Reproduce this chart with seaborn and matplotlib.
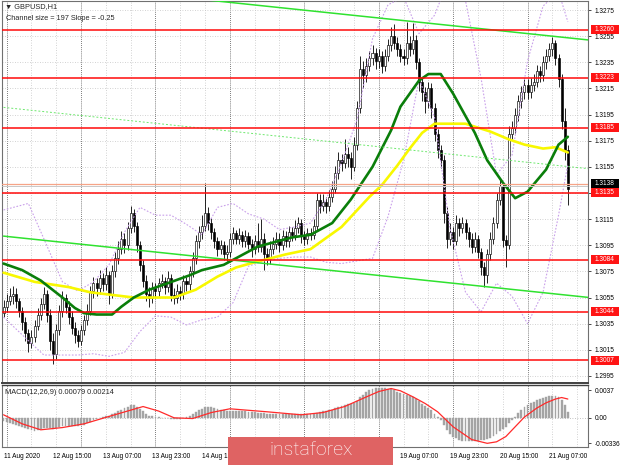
import numpy as np
import matplotlib
matplotlib.use("Agg")
import matplotlib.pyplot as plt
from matplotlib.patches import Rectangle
import seaborn as sns

sns.set_style("white")
plt.rcParams['font.family'] = ['Liberation Sans', 'DejaVu Sans']

# GBPUSD H1, 11 Aug 23:00 .. 21 Aug 13:00 (bar index 0..182)
first_open = 1.3043
close = [
    1.3048, 1.3052, 1.3056, 1.3058, 1.3052, 1.3045, 1.3036, 1.3028, 1.3020, 1.3025,
    1.3033, 1.3042, 1.3050, 1.3058, 1.3042, 1.3022, 1.3012, 1.3030, 1.3045, 1.3055,
    1.3048, 1.3040, 1.3032, 1.3026, 1.3022, 1.3030, 1.3038, 1.3045, 1.3060, 1.3066,
    1.3062, 1.3070, 1.3065, 1.3072, 1.3058, 1.3075, 1.3085, 1.3092, 1.3100, 1.3095,
    1.3108, 1.3120, 1.3110, 1.3095, 1.3080, 1.3068, 1.3058, 1.3055, 1.3062, 1.3060,
    1.3066, 1.3068, 1.3063, 1.3070, 1.3057, 1.3055, 1.3060, 1.3058, 1.3068, 1.3065,
    1.3075, 1.3085, 1.3098, 1.3105, 1.3110, 1.3120, 1.3112, 1.3105, 1.3098, 1.3092,
    1.3095, 1.3088, 1.3090, 1.3100, 1.3104, 1.3100, 1.3103, 1.3098, 1.3102, 1.3096,
    1.3092, 1.3098, 1.3094, 1.3100, 1.3088, 1.3085, 1.3092, 1.3096, 1.3100, 1.3095,
    1.3102, 1.3098, 1.3105, 1.3103, 1.3108, 1.3112, 1.3102, 1.3100, 1.3104, 1.3103,
    1.3110, 1.3130, 1.3125, 1.3128, 1.3125, 1.3132, 1.3138, 1.3150, 1.3160, 1.3158,
    1.3165, 1.3162, 1.3155, 1.3172, 1.3200, 1.3230, 1.3225, 1.3232, 1.3238, 1.3242,
    1.3236, 1.3240, 1.3232, 1.3240, 1.3248, 1.3255, 1.3250, 1.3245, 1.3240, 1.3238,
    1.3250, 1.3245, 1.3252, 1.3235, 1.3220, 1.3212, 1.3205, 1.3215, 1.3200, 1.3180,
    1.3168, 1.3160, 1.3120, 1.3100, 1.3105, 1.3098, 1.3112, 1.3108, 1.3112, 1.3105,
    1.3100, 1.3094, 1.3100, 1.3090, 1.3078, 1.3072, 1.3088, 1.3100, 1.3112, 1.3130,
    1.3140, 1.3099, 1.3095, 1.3180, 1.3185, 1.3195, 1.3205, 1.3212, 1.3218, 1.3212,
    1.3218, 1.3220, 1.3228, 1.3225, 1.3235, 1.3240, 1.3245, 1.3250, 1.3238, 1.3222,
    1.3190, 1.3168, 1.3138]
high = [
    1.3053, 1.3058, 1.3062, 1.3064, 1.3062, 1.3055, 1.3048, 1.3040, 1.3031, 1.3030,
    1.3038, 1.3047, 1.3055, 1.3063, 1.3061, 1.3046, 1.3028, 1.3035, 1.3049, 1.3060,
    1.3058, 1.3052, 1.3045, 1.3036, 1.3030, 1.3034, 1.3042, 1.3050, 1.3064, 1.3071,
    1.3070, 1.3076, 1.3074, 1.3078, 1.3075, 1.3080, 1.3090, 1.3098, 1.3106, 1.3104,
    1.3113, 1.3125, 1.3123, 1.3113, 1.3098, 1.3084, 1.3072, 1.3063, 1.3067, 1.3066,
    1.3070, 1.3073, 1.3071, 1.3075, 1.3073, 1.3062, 1.3065, 1.3064, 1.3072, 1.3071,
    1.3079, 1.3090, 1.3103, 1.3110, 1.3118, 1.3143, 1.3124, 1.3116, 1.3108, 1.3101,
    1.3099, 1.3098, 1.3095, 1.3104, 1.3109, 1.3107, 1.3108, 1.3106, 1.3107, 1.3105,
    1.3100, 1.3103, 1.3112, 1.3115, 1.3104, 1.3093, 1.3098, 1.3101, 1.3105, 1.3104,
    1.3107, 1.3106, 1.3110, 1.3109, 1.3114, 1.3117, 1.3115, 1.3106, 1.3108, 1.3108,
    1.3115, 1.3135, 1.3134, 1.3134, 1.3132, 1.3137, 1.3144, 1.3156, 1.3166, 1.3165,
    1.3176, 1.3170, 1.3166, 1.3178, 1.3205, 1.3240, 1.3236, 1.3238, 1.3244, 1.3248,
    1.3246, 1.3245, 1.3244, 1.3245, 1.3253, 1.3262, 1.3264, 1.3254, 1.3249, 1.3245,
    1.3266, 1.3255, 1.3265, 1.3256, 1.3238, 1.3224, 1.3216, 1.3220, 1.3219, 1.3204,
    1.3184, 1.3172, 1.3164, 1.3124, 1.3112, 1.3109, 1.3118, 1.3116, 1.3117, 1.3115,
    1.3109, 1.3104, 1.3105, 1.3103, 1.3093, 1.3082, 1.3092, 1.3105, 1.3117, 1.3135,
    1.3146, 1.3143, 1.3103, 1.3186, 1.3190, 1.3200, 1.3210, 1.3217, 1.3223, 1.3222,
    1.3223, 1.3226, 1.3233, 1.3232, 1.3240, 1.3245, 1.3250, 1.3254, 1.3252, 1.3241,
    1.3226, 1.3200, 1.3172]
low = [
    1.3040, 1.3044, 1.3049, 1.3050, 1.3047, 1.3040, 1.3030, 1.3022, 1.3013, 1.3016,
    1.3021, 1.3030, 1.3038, 1.3046, 1.3036, 1.3015, 1.3004, 1.3008, 1.3026, 1.3040,
    1.3043, 1.3035, 1.3027, 1.3020, 1.3017, 1.3019, 1.3026, 1.3034, 1.3042, 1.3055,
    1.3056, 1.3058, 1.3060, 1.3061, 1.3050, 1.3055, 1.3071, 1.3081, 1.3088, 1.3089,
    1.3091, 1.3104, 1.3105, 1.3090, 1.3075, 1.3063, 1.3052, 1.3048, 1.3051, 1.3055,
    1.3056, 1.3062, 1.3058, 1.3059, 1.3052, 1.3050, 1.3051, 1.3053, 1.3054, 1.3060,
    1.3061, 1.3071, 1.3081, 1.3093, 1.3100, 1.3106, 1.3107, 1.3100, 1.3093, 1.3087,
    1.3088, 1.3084, 1.3083, 1.3086, 1.3096, 1.3096, 1.3096, 1.3094, 1.3094, 1.3092,
    1.3086, 1.3088, 1.3090, 1.3090, 1.3076, 1.3080, 1.3081, 1.3088, 1.3092, 1.3090,
    1.3091, 1.3094, 1.3094, 1.3098, 1.3099, 1.3104, 1.3097, 1.3095, 1.3096, 1.3099,
    1.3100, 1.3107, 1.3120, 1.3121, 1.3120, 1.3121, 1.3128, 1.3135, 1.3146, 1.3152,
    1.3154, 1.3155, 1.3146, 1.3152, 1.3168, 1.3196, 1.3215, 1.3220, 1.3228, 1.3233,
    1.3230, 1.3231, 1.3227, 1.3228, 1.3236, 1.3244, 1.3245, 1.3240, 1.3235, 1.3233,
    1.3234, 1.3240, 1.3241, 1.3230, 1.3213, 1.3205, 1.3196, 1.3200, 1.3192, 1.3175,
    1.3162, 1.3154, 1.3112, 1.3093, 1.3095, 1.3092, 1.3095, 1.3102, 1.3104, 1.3100,
    1.3094, 1.3089, 1.3090, 1.3085, 1.3072, 1.3063, 1.3066, 1.3084, 1.3096, 1.3108,
    1.3126, 1.3094, 1.3078, 1.3092, 1.3176, 1.3181, 1.3190, 1.3200, 1.3207, 1.3207,
    1.3208, 1.3213, 1.3216, 1.3220, 1.3221, 1.3230, 1.3236, 1.3240, 1.3233, 1.3216,
    1.3184, 1.3160, 1.3126]

macd_hist = [
    -0.00040, -0.00060, -0.00075, -0.00085, -0.00095, -0.00110, -0.00125, -0.00140, -0.00155, -0.00165,
    -0.00170, -0.00165, -0.00150, -0.00130, -0.00130, -0.00140, -0.00150, -0.00140, -0.00125, -0.00110,
    -0.00105, -0.00105, -0.00110, -0.00110, -0.00110, -0.00100, -0.00090, -0.00075, -0.00050, -0.00030,
    -0.00015, 0.00000, 0.00010, 0.00025, 0.00025, 0.00045, 0.00070, 0.00090, 0.00110, 0.00125,
    0.00145, 0.00165, 0.00165, 0.00150, 0.00120, 0.00085, 0.00055, 0.00030, 0.00020, 0.00010,
    0.00005, 0.00000, -0.00005, 0.00000, -0.00010, -0.00020, -0.00020, -0.00015, -0.00005, 0.00005,
    0.00025, 0.00050, 0.00080, 0.00100, 0.00120, 0.00140, 0.00145, 0.00140, 0.00130, 0.00120,
    0.00110, 0.00100, 0.00095, 0.00095, 0.00095, 0.00090, 0.00090, 0.00085, 0.00085, 0.00080,
    0.00075, 0.00075, 0.00070, 0.00070, 0.00060, 0.00055, 0.00050, 0.00050, 0.00050, 0.00045,
    0.00045, 0.00045, 0.00045, 0.00045, 0.00050, 0.00055, 0.00050, 0.00045, 0.00045, 0.00045,
    0.00050, 0.00065, 0.00075, 0.00085, 0.00090, 0.00100, 0.00110, 0.00125, 0.00145, 0.00160,
    0.00175, 0.00185, 0.00185, 0.00195, 0.00230, 0.00280, 0.00310, 0.00340, 0.00365, 0.00385,
    0.00395, 0.00400, 0.00398, 0.00395, 0.00390, 0.00380, 0.00365, 0.00350, 0.00335, 0.00320,
    0.00305, 0.00290, 0.00275, 0.00255, 0.00225, 0.00190, 0.00160, 0.00130, 0.00100, 0.00055,
    0.00015, -0.00030, -0.00100, -0.00160, -0.00210, -0.00250, -0.00275, -0.00295, -0.00305, -0.00310,
    -0.00315, -0.00315, -0.00310, -0.00305, -0.00300, -0.00295, -0.00285, -0.00265, -0.00240, -0.00210,
    -0.00175, -0.00150, -0.00125, -0.00075, -0.00030, 0.00010, 0.00060, 0.00100, 0.00140, 0.00170,
    0.00195, 0.00215, 0.00235, 0.00250, 0.00265, 0.00275, 0.00285, 0.00290, 0.00290, 0.00275,
    0.00240, 0.00170, 0.00079]

signal_k = [0, 6, 12, 19, 26, 35, 45, 50, 55, 61, 67, 73, 85, 96, 103, 110, 116, 121, 125,
            128, 132, 136, 140, 145, 151, 156, 159, 162, 168, 172, 175, 178, 180, 182]
signal_v = [0.0004, -0.0008, -0.0016, -0.0013, -0.0008, 0.0003, 0.0015, 0.0009, 0.0000, -0.0001,
            0.0007, 0.0012, 0.0008, 0.0004, 0.0007, 0.0015, 0.0026, 0.0035, 0.0039,
            0.0036, 0.0028, 0.0019, 0.0008, -0.0012, -0.0029, -0.0034, -0.0032, -0.0025, 0.0001,
            0.0013, 0.0020, 0.0025, 0.0027, 0.0025]

ma_green_k = [0, 6, 12, 19, 23, 26, 30, 35, 38, 42, 47, 53, 60, 64, 71, 82, 93, 99, 106, 112,
              119, 125, 128, 134, 137, 141, 145, 152, 156, 161, 165, 169, 175, 179, 182]
ma_green_v = [1.3081, 1.3076, 1.3068, 1.3055, 1.3047, 1.3043, 1.3042, 1.3042, 1.3048, 1.3055,
              1.3061, 1.3066, 1.3072, 1.3076, 1.3080, 1.3094, 1.3101, 1.3103, 1.3112, 1.3130,
              1.3155, 1.3183, 1.3201, 1.3221, 1.3226, 1.3226, 1.3211, 1.3181, 1.3160, 1.3143,
              1.3131, 1.3136, 1.3153, 1.3172, 1.3178]
ma_yellow_k = [0, 10, 21, 28, 35, 42, 48, 55, 62, 69, 75, 81, 91, 99, 109, 118, 122, 127, 131,
               135, 139, 149, 157, 163, 168, 174, 178, 182]
ma_yellow_v = [1.3074, 1.3067, 1.3063, 1.3059, 1.3057, 1.3055, 1.3055, 1.3055, 1.3061, 1.3071,
               1.3078, 1.3082, 1.3088, 1.3092, 1.3109, 1.3132, 1.3141, 1.3156, 1.3169,
               1.3181, 1.3188, 1.3188, 1.3182, 1.3176, 1.3172, 1.3169, 1.3170, 1.3166]

bb_k = [0, 8, 13, 19, 24, 29, 34, 39, 44, 49, 54, 59, 64, 69, 74, 79, 84, 89, 94, 99, 104,
        109, 114, 119, 124, 129, 134, 139, 144, 149, 154, 159, 164, 169, 174, 179, 182]
bb_upper = [1.3122, 1.3127, 1.3100, 1.3067, 1.3060, 1.3067, 1.3080, 1.3105, 1.3124, 1.3118,
            1.3118, 1.3111, 1.3103, 1.3124, 1.3127, 1.3119, 1.3115, 1.3107, 1.3109, 1.3112,
            1.3130, 1.3158, 1.3191, 1.3253, 1.3279, 1.3285, 1.3257, 1.3271, 1.3301, 1.3282,
            1.3223, 1.3149, 1.3164, 1.3236, 1.3278, 1.3289, 1.3266]
bb_lower = [1.3040, 1.3022, 1.3011, 1.3011, 1.3011, 1.3012, 1.3010, 1.3013, 1.3029, 1.3041,
            1.3040, 1.3034, 1.3038, 1.3040, 1.3051, 1.3079, 1.3083, 1.3085, 1.3086, 1.3086,
            1.3082, 1.3081, 1.3083, 1.3085, 1.3117, 1.3160, 1.3222, 1.3193, 1.3108, 1.3059,
            1.3044, 1.3066, 1.3056, 1.3035, 1.3059, 1.3118, 1.3157]

chan_k = [0, 189]
chan_upper = [1.3299, 1.3252]
chan_mid = [1.32005, 1.31535]
chan_lower = [1.3102, 1.3055]

levels = [1.3260, 1.3223, 1.3185, 1.3135, 1.3084, 1.3044, 1.3007]
ask_line = 1.3142
bid_line = 1.3140
bid_label = "1.3138"

price_ticks = [1.3275, 1.3255, 1.3235, 1.3215, 1.3195, 1.3175, 1.3155, 1.3135,
               1.3115, 1.3095, 1.3075, 1.3055, 1.3035, 1.3015, 1.2995]
macd_ticks = [0.0037, 0.0, -0.00336]
macd_tick_labels = ["0.0037", "0.00", "-0.00336"]
# labels at 17 Aug 07:00 .. 18 Aug 15:00 sit under the watermark and are not visible
time_k = [0, 16, 32, 48, 64, 80, 96, 112, 128, 144, 160, 176]
time_labels = ["11 Aug 2020", "12 Aug 15:00", "13 Aug 07:00", "13 Aug 23:00", "14 Aug 15:00",
               "", "", "", "19 Aug 07:00", "19 Aug 23:00",
               "20 Aug 15:00", "21 Aug 07:00"]

# ---- figure / axes
W, H = 620, 465
fig = plt.figure(figsize=(6.2, 4.65), dpi=100)
ax = fig.add_axes([2 / W, 1 - 383 / H, 586 / W, 382 / H])
ax2 = fig.add_axes([2 / W, 1 - 447 / H, 586 / W, 62 / H], sharex=ax)
ax.set_xlim(-0.5, 188.5)
ax.set_ylim(1.29896, 1.32819)
ax2.set_ylim(-0.00389, 0.00437)

fs = 4.7
for a in (ax, ax2):
    a.set_facecolor('white')
    for s in a.spines.values():
        s.set_color('#707070')
        s.set_linewidth(0.8)
    # grid: 8-bar light, day separators darker
    for g in range(1, 189, 8):
        day = (g - 1) % 24 == 0
        a.axvline(g, color='#505050' if day else '#c4c4c4', lw=0.6,
                  ls=(0, (1, 1.5)) if day else (0, (1, 2)), zorder=1)
ax.spines['bottom'].set_color('#404040')
ax.spines['bottom'].set_linewidth(1.4)
ax2.spines['top'].set_color('#404040')
ax2.spines['top'].set_linewidth(1.0)

for t in price_ticks:
    ax.axhline(t, color='#c4c4c4', lw=0.6, ls=(0, (1, 2)), zorder=1)
ax2.axhline(0, color='#b0b0b0', lw=0.6, ls=(0, (1, 2)), zorder=1)

# ---- candles
c = np.array(close)
o = np.r_[first_open, c[:-1]]
hi = np.array(high)
lo = np.array(low)
k = np.arange(len(c))
up = c >= o
ax.vlines(k, lo, hi, color='black', lw=0.6, zorder=3)
ax.bar(k[up], (c - o)[up], bottom=o[up], width=0.66, color='white',
       edgecolor='black', linewidth=0.45, zorder=4)
ax.bar(k[~up], (o - c)[~up], bottom=c[~up], width=0.66, color='black',
       edgecolor='black', linewidth=0.45, zorder=4)

# ---- indicators
sns.lineplot(x=bb_k, y=bb_upper, ax=ax, color='#c9a0ea', lw=0.8, ls=(0, (1.5, 1.5)), zorder=5)
sns.lineplot(x=bb_k, y=bb_lower, ax=ax, color='#c9a0ea', lw=0.8, ls=(0, (1.5, 1.5)), zorder=5)
sns.lineplot(x=ma_yellow_k, y=ma_yellow_v, ax=ax, color='#f8f800', lw=1.9, zorder=6)
sns.lineplot(x=ma_green_k, y=ma_green_v, ax=ax, color='#0a7e0a', lw=1.9, zorder=7)

sns.lineplot(x=chan_k, y=chan_upper, ax=ax, color='#2fe22f', lw=1.1, zorder=8)
sns.lineplot(x=chan_k, y=chan_lower, ax=ax, color='#2fe22f', lw=1.1, zorder=8)
sns.lineplot(x=chan_k, y=chan_mid, ax=ax, color='#6ee86e', lw=0.7, ls=(0, (2, 2)), zorder=8)

for lv in levels:
    ax.axhline(lv, color='#ff0a0a', lw=1.1, zorder=9)
ax.axhline(ask_line, color='#f6a487', lw=0.9, zorder=8)
ax.axhline(bid_line, color='#c8c8c8', lw=0.7, zorder=8)

# ---- right axis
ax.yaxis.tick_right()
ax.set_yticks(price_ticks)
ax.set_yticklabels([f"{t:.4f}" for t in price_ticks])
ax.tick_params(axis='y', direction='out', length=2, width=0.5, pad=3, labelsize=fs, colors='black')
ax.tick_params(axis='x', bottom=False, labelbottom=False)

tr = ax.get_yaxis_transform()
bw = 28 / 586
bh = 9 / 13071
ax.add_patch(Rectangle((1.005, ask_line - bh / 2), bw, bh, transform=tr, facecolor='black',
                       edgecolor='none', clip_on=False, zorder=10))
ax.text(1.005 + bw / 2, ask_line, bid_label, transform=tr, ha='center', va='center',
        fontsize=fs, color='white', zorder=11, clip_on=False)
for lv in levels:
    ax.add_patch(Rectangle((1.005, lv - bh / 2), bw, bh, transform=tr, facecolor='#ff1414',
                           edgecolor='none', clip_on=False, zorder=12))
    ax.text(1.005 + bw / 2, lv, f"{lv:.4f}", transform=tr, ha='center', va='center',
            fontsize=fs, color='white', zorder=13, clip_on=False)

# ---- MACD
ax2.bar(k, macd_hist, width=0.6, color='#a4a4a4', edgecolor='#a4a4a4', linewidth=0.3, zorder=3)
sns.lineplot(x=signal_k, y=signal_v, ax=ax2, color='#ff2a2a', lw=0.9, zorder=4)
ax2.yaxis.tick_right()
ax2.set_yticks(macd_ticks)
ax2.set_yticklabels(macd_tick_labels)
ax2.tick_params(axis='y', direction='out', length=2, width=0.5, pad=3, labelsize=fs, colors='black')
ax2.set_xticks(time_k)
ax2.set_xticklabels(time_labels, ha='left')
ax2.tick_params(axis='x', direction='out', length=2, width=0.5, pad=2, labelsize=fs, colors='black')
ax2.set_xlabel("")
ax2.set_ylabel("")
ax.set_xlabel("")
ax.set_ylabel("")

# ---- texts
fig.text(5 / W, 1 - 7 / H, "▼ GBPUSD,H1", fontsize=5.3, va='center', ha='left')
fig.text(6 / W, 1 - 18 / H, "Channel size = 197 Slope = -0.25", fontsize=5.3, va='center', ha='left')
fig.text(5 / W, 1 - 392.5 / H, "MACD(12,26,9) 0.00079 0.00214", fontsize=5.3, va='center', ha='left')

# ---- watermark
fig.add_artist(Rectangle((228 / W, 0), 165 / W, 28 / H, transform=fig.transFigure,
                         facecolor='#df6363', edgecolor='none', zorder=20))
fig.text(311 / W, 1 - 450 / H, "instaforex", fontsize=14, color='white', ha='center',
         va='center', family=['Roboto', 'DejaVu Sans'], fontweight='light', zorder=21)

fig.savefig("out.png", dpi=100)
